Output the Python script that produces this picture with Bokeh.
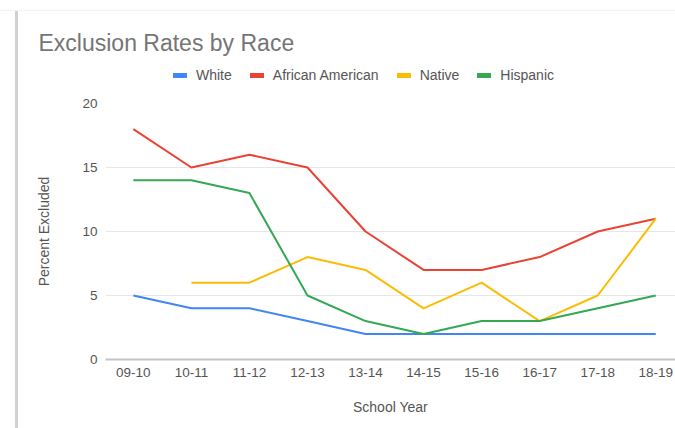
from bokeh.plotting import figure
from bokeh.layouts import column
from bokeh.models import (Range1d, FixedTicker, Legend, LegendItem, Label)
from bokeh.embed import file_html
from bokeh.resources import INLINE

years = ["09-10", "10-11", "11-12", "12-13", "13-14", "14-15", "15-16", "16-17", "17-18", "18-19"]
white = [5, 4, 4, 3, 2, 2, 2, 2, 2, 2]
african_american = [18, 15, 16, 15, 10, 7, 7, 8, 10, 11]
native = [float("nan"), 6, 6, 8, 7, 4, 6, 3, 5, 11]
hispanic = [14, 14, 13, 5, 3, 2, 3, 3, 4, 5]
y_ticks = [0, 5, 10, 15, 20]

series = [
    ("White", white, "#4285F4"),
    ("African American", african_american, "#EA4335"),
    ("Native", native, "#FBBC04"),
    ("Hispanic", hispanic, "#34A853"),
]

FONT = "Liberation Sans"
xs = list(range(len(years)))
NAN = float("nan")

# ---- header: title + legend ----
top = figure(width=675, height=90, output_backend="svg", toolbar_location=None,
             x_axis_location=None, y_axis_location=None,
             x_range=Range1d(0, 1), y_range=Range1d(0, 1),
             min_border=0, min_border_left=0, min_border_right=0,
             min_border_top=0, min_border_bottom=0)
top.frame_align = False
top.outline_line_color = None
top.background_fill_color = None
top.border_fill_color = None
top.grid.visible = False

items = []
for name, vals, color in series:
    r = top.line([NAN], [NAN], line_color=color, line_width=5, line_cap="round")
    items.append(LegendItem(label=name, renderers=[r]))

legend = Legend(items=items, orientation="horizontal", location=(173, 7),
                border_line_color=None, background_fill_alpha=0,
                padding=0, margin=0, spacing=18, glyph_width=14, glyph_height=14,
                label_standoff=9, label_text_font=FONT, label_text_font_size="14px",
                label_text_color="#555555")
top.add_layout(legend, "center")

title = Label(x=38, y=48, x_units="screen", y_units="screen",
              text="Exclusion Rates by Race", text_font=FONT,
              text_font_size="23px", text_color="#757575", text_baseline="middle")
top.add_layout(title)

# ---- main chart ----
p = figure(width=675, height=338, output_backend="svg", toolbar_location=None,
           x_range=Range1d(-0.48, 9.34), y_range=Range1d(0, 20),
           min_border_left=105, min_border_right=0, min_border_top=13, min_border_bottom=69)
p.frame_align = False
p.outline_line_color = None
p.background_fill_color = None
p.border_fill_color = None

p.xgrid.grid_line_color = None
p.ygrid.grid_line_color = "#e6e6e6"
p.ygrid.grid_line_width = 1

p.yaxis.ticker = FixedTicker(ticks=y_ticks)
p.xaxis.ticker = FixedTicker(ticks=xs)
p.xaxis.major_label_overrides = {i: y for i, y in enumerate(years)}

for ax in (p.xaxis[0], p.yaxis[0]):
    ax.major_tick_line_color = None
    ax.minor_tick_line_color = None
    ax.major_label_text_font = FONT
    ax.major_label_text_font_size = "13.5px"
    ax.major_label_text_color = "#555555"
    ax.axis_label_text_font = FONT
    ax.axis_label_text_font_size = "14px"
    ax.axis_label_text_font_style = "normal"
    ax.axis_label_text_color = "#555555"
    ax.major_label_standoff = 2

p.yaxis.axis_line_color = None
p.yaxis.axis_label = "Percent Excluded"
p.yaxis.axis_label_standoff = 27
p.xaxis.axis_line_color = "#c4c4c4"
p.xaxis.axis_line_width = 2
p.xaxis.axis_label = "School Year"
p.xaxis.axis_label_standoff = 19

for name, vals, color in series:
    p.line(xs, vals, line_color=color, line_width=2, line_join="round")

layout = column(top, p, spacing=0)
layout.styles = {
    "background-color": "white",
    "background-image": ("linear-gradient(to bottom, #ffffff 0px, #ffffff 10px, #f2f2f2 10px, "
                         "#f2f2f2 11px, transparent 11px), "
                         "linear-gradient(to right, #ffffff 0px, #ffffff 15px, #d2d2d2 15px, "
                         "#d2d2d2 18px, #ffffff 18px)"),
}

open("out.html", "w").write(file_html(layout, INLINE))
